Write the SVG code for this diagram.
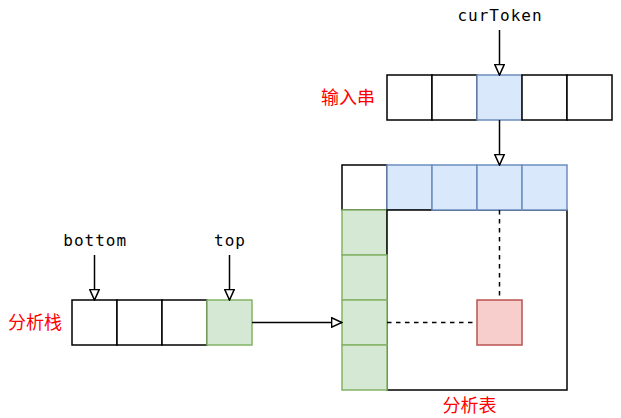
<svg xmlns="http://www.w3.org/2000/svg" width="621" height="418" viewBox="0 0 621 418">
<style>
.cell{fill:#ffffff;stroke:#000000;stroke-width:1.5}
.blue{fill:#dae8fc;stroke:#6c8ebf;stroke-width:1.5}
.green{fill:#d5e8d4;stroke:#82b366;stroke-width:1.5}
.red{fill:#f8cecc;stroke:#b85450;stroke-width:1.5}
.mono{font-family:"DejaVu Sans Mono","Liberation Mono",monospace;font-size:16px;letter-spacing:1px;fill:#000000;text-anchor:middle}
.cjk{font-family:"Noto Sans CJK SC","Noto Sans",sans-serif;font-size:18px;fill:#ff0000}
.edge{fill:none;stroke:#000000;stroke-width:1.5}
.dash{fill:none;stroke:#000000;stroke-width:1.5;stroke-dasharray:4.5 4.5}
</style>
<defs>
<marker id="arr" viewBox="0 0 12 11" refX="11.2" refY="5.5" markerWidth="12" markerHeight="11" markerUnits="userSpaceOnUse" orient="auto">
<path d="M0.8,0.8 L11.2,5.5 L0.8,10.2 Z" fill="#ffffff" stroke="#000000" stroke-width="1.5"/>
</marker>
</defs>
<rect width="621" height="418" fill="#ffffff"/>

<g id="input-string">
<rect class="cell" x="387" y="75" width="45" height="45"/>
<rect class="cell" x="432" y="75" width="45" height="45"/>
<rect class="blue" x="477" y="75" width="45" height="45"/>
<rect class="cell" x="522" y="75" width="45" height="45"/>
<rect class="cell" x="567" y="75" width="45" height="45"/>
<text class="cjk" x="375" y="103.5" text-anchor="end">输入串</text>
</g>

<g id="curToken-label">
<text class="mono" x="500" y="20.7">curToken</text>
</g>

<g id="parse-table">
<rect class="cell" x="342" y="165" width="45" height="45"/>
<rect class="blue" x="387" y="165" width="45" height="45"/>
<rect class="green" x="342" y="210" width="45" height="45"/>
<rect class="cell" x="387" y="210" width="180" height="180"/>
<rect class="blue" x="432" y="165" width="45" height="45"/>
<rect class="blue" x="477" y="165" width="45" height="45"/>
<rect class="blue" x="522" y="165" width="45" height="45"/>
<rect class="green" x="342" y="255" width="45" height="45"/>
<rect class="green" x="342" y="300" width="45" height="45"/>
<rect class="green" x="342" y="345" width="45" height="45"/>
<text class="cjk" x="469.5" y="411.5" text-anchor="middle">分析表</text>
</g>

<g id="table-entry">
<rect class="red" x="477" y="300" width="45" height="45"/>
</g>

<g id="parse-stack">
<rect class="cell" x="72" y="300" width="45" height="45"/>
<rect class="cell" x="117" y="300" width="45" height="45"/>
<rect class="cell" x="162" y="300" width="45" height="45"/>
<rect class="green" x="207" y="300" width="45" height="45"/>
<text class="cjk" x="62" y="328.5" text-anchor="end">分析栈</text>
</g>

<g id="bottom-label">
<text class="mono" x="95.2" y="246">bottom</text>
</g>

<g id="top-label">
<text class="mono" x="230" y="246">top</text>
</g>

<g id="connectors">
<line class="edge" x1="499.5" y1="30" x2="499.5" y2="75" marker-end="url(#arr)"/>
<line class="edge" x1="499.5" y1="120" x2="499.5" y2="165" marker-end="url(#arr)"/>
<line class="edge" x1="94.5" y1="255" x2="94.5" y2="300" marker-end="url(#arr)"/>
<line class="edge" x1="229.5" y1="255" x2="229.5" y2="300" marker-end="url(#arr)"/>
<line class="edge" x1="252" y1="322.5" x2="342" y2="322.5" marker-end="url(#arr)"/>
<line class="dash" x1="499.5" y1="210" x2="499.5" y2="300"/>
<line class="dash" x1="387" y1="322.5" x2="477" y2="322.5"/>
</g>
</svg>
